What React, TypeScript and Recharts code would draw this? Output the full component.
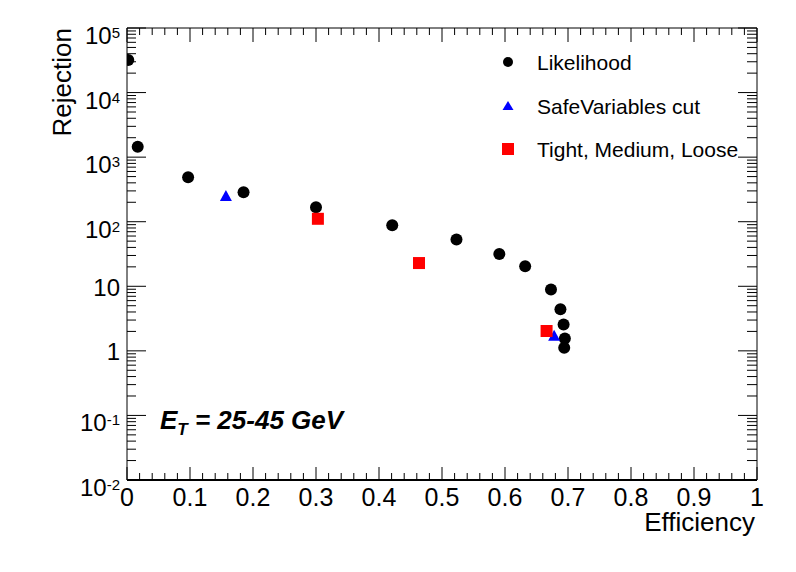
import React from 'react';
import { ScatterChart, Scatter, XAxis, YAxis, Legend } from 'recharts';

const FONT = '"Liberation Sans", Arial, Helvetica, sans-serif';

// Likelihood working points
const likelihoodEff = [0.002, 0.017, 0.097, 0.185, 0.3, 0.421, 0.523, 0.591, 0.632, 0.673, 0.688, 0.693, 0.695, 0.694];
const likelihoodRej = [32000, 1450, 490, 286, 167, 88, 53, 31.6, 20.4, 8.9, 4.4, 2.55, 1.56, 1.12];

// SafeVariables cut
const safeEff = [0.157, 0.678];
const safeRej = [251, 1.72];

// Tight, Medium, Loose
const tmlEff = [0.303, 0.4635, 0.666];
const tmlRej = [111, 22.9, 2.03];

const xMajorTicks = [0, 0.1, 0.2, 0.3, 0.4, 0.5, 0.6, 0.7, 0.8, 0.9, 1];
const yDecades = [0.01, 0.1, 1, 10, 100, 1000, 10000, 100000];

const seriesNames = ['Likelihood', 'SafeVariables cut', 'Tight, Medium, Loose'];

const toPoints = (xs: number[], ys: number[]) => xs.map((x, i) => ({ x, y: ys[i] }));
const likelihoodData = toPoints(likelihoodEff, likelihoodRej);
const safeData = toPoints(safeEff, safeRej);
const tmlData = toPoints(tmlEff, tmlRej);

// minor ticks: 5 divisions per 0.1 on x, 2..9 per decade on y
const xTicks: number[] = [];
for (let i = 0; i < xMajorTicks.length; i++) {
  xTicks.push(xMajorTicks[i]);
  if (i < xMajorTicks.length - 1) {
    for (let k = 1; k < 5; k++) xTicks.push(+(xMajorTicks[i] + k * 0.02).toFixed(3));
  }
}
const yTicks: number[] = [];
yDecades.forEach((d, i) => {
  yTicks.push(d);
  if (i < yDecades.length - 1) {
    for (let k = 2; k < 10; k++) yTicks.push(+(d * k).toPrecision(3));
  }
});

const isXMajor = (v: number) => Math.abs(v * 10 - Math.round(v * 10)) < 1e-6;
const isYMajor = (v: number) => Math.abs(Math.log10(v) - Math.round(Math.log10(v))) < 1e-6;

const BottomTick = (props: any) => {
  const { x, y, payload } = props;
  const v = payload.value;
  const major = isXMajor(v);
  const label = v === 0 ? '0' : v === 1 ? '1' : v.toFixed(1);
  return (
    <g>
      <line x1={x} x2={x} y1={y} y2={y - (major ? 13 : 7)} stroke="#000" />
      {major && (
        <text x={x} y={y + 26} textAnchor="middle" fontFamily={FONT} fontSize={25} fill="#000">
          {label}
        </text>
      )}
    </g>
  );
};

const TopTick = (props: any) => {
  const { x, y, payload } = props;
  const major = isXMajor(payload.value);
  return <line x1={x} x2={x} y1={y} y2={y + (major ? 14 : 7)} stroke="#000" />;
};

const LeftTick = (props: any) => {
  const { x, y, payload } = props;
  const v = payload.value;
  const major = isYMajor(v);
  const e = Math.round(Math.log10(v));
  let label = null;
  if (major) {
    if (e === 0 || e === 1) {
      label = (
        <text x={120} y={y + 9.5} textAnchor="end" fontFamily={FONT} fontSize={24} fill="#000">
          {e === 0 ? '1' : '10'}
        </text>
      );
    } else {
      label = (
        <text x={120} y={y + 16} textAnchor="end" fontFamily={FONT} fontSize={24} fill="#000">
          10
          <tspan dy={-6} fontSize={15}>{String(e)}</tspan>
        </text>
      );
    }
  }
  return (
    <g>
      <line x1={x} x2={x + (major ? 19 : 9)} y1={y} y2={y} stroke="#000" />
      {label}
    </g>
  );
};

const RightTick = (props: any) => {
  const { x, y, payload } = props;
  const major = isYMajor(payload.value);
  return <line x1={x} x2={x - (major ? 19 : 10)} y1={y} y2={y} stroke="#000" />;
};

const CircleShape = (p: any) => <circle cx={p.cx} cy={p.cy} r={6} fill="#000" />;
const TriangleShape = (p: any) => (
  <polygon points={`${p.cx - 6},${p.cy + 5} ${p.cx + 6},${p.cy + 5} ${p.cx},${p.cy - 6}`} fill="#0000ff" />
);
const SquareShape = (p: any) => <rect x={p.cx - 6} y={p.cy - 6} width={12} height={12} fill="#ff0000" />;
const NoShape = () => <g />;

const legendMarker = (i: number, cx: number, cy: number) => {
  if (i === 0) return <circle cx={cx} cy={cy} r={5} fill="#000" />;
  if (i === 1)
    return <polygon points={`${cx - 5.5},${cy + 4} ${cx + 5.5},${cy + 4} ${cx},${cy - 5}`} fill="#0000ff" />;
  return <rect x={cx - 6} y={cy - 6} width={12} height={12} fill="#ff0000" />;
};

const LegendBox = () => {
  const rowY = [17, 61, 104];
  return (
    <svg width={270} height={125} style={{ display: 'block' }}>
      {seriesNames.map((name, i) => (
        <g key={name}>
          {legendMarker(i, 13, rowY[i])}
          <text x={42} y={rowY[i] + 8} fontFamily={FONT} fontSize={21} fill="#000">
            {name}
          </text>
        </g>
      ))}
    </svg>
  );
};

export default function App() {
  return (
    <div style={{ position: 'relative', width: 796, height: 572, background: '#fff' }}>
      <style>{'body{margin:0;}'}</style>
      <ScatterChart width={796} height={572} margin={{ top: 27, right: 38, bottom: 0, left: 0 }}>
        <XAxis
          xAxisId="main"
          dataKey="x"
          type="number"
          domain={[0, 1]}
          allowDataOverflow
          ticks={xTicks}
          interval={0}
          height={92}
          tickSize={0}
          tickMargin={0}
          tickLine={false}
          tick={<BottomTick />}
          axisLine={{ stroke: '#000', strokeWidth: 2 }}
          label={{
            content: (p: any) => {
              const vb = p.viewBox;
              return (
                <text x={vb.x + vb.width - 2} y={vb.y + 51} textAnchor="end" fontFamily={FONT} fontSize={26} fill="#000">
                  Efficiency
                </text>
              );
            },
          }}
        />
        <XAxis
          xAxisId="top"
          orientation="top"
          dataKey="x"
          type="number"
          domain={[0, 1]}
          allowDataOverflow
          ticks={xTicks}
          interval={0}
          height={1}
          tickSize={0}
          tickMargin={0}
          tickLine={false}
          tick={<TopTick />}
          axisLine={{ stroke: '#000', strokeWidth: 1 }}
        />
        <YAxis
          yAxisId="main"
          dataKey="y"
          type="number"
          scale="log"
          domain={[0.01, 100000]}
          allowDataOverflow
          ticks={yTicks}
          interval={0}
          width={127}
          tickSize={0}
          tickMargin={0}
          tickLine={false}
          tick={<LeftTick />}
          axisLine={{ stroke: '#000', strokeWidth: 1 }}
          label={{
            content: (p: any) => {
              const vb = p.viewBox;
              return (
                <text
                  x={71}
                  y={vb.y}
                  textAnchor="end"
                  transform={`rotate(-90, 71, ${vb.y})`}
                  fontFamily={FONT}
                  fontSize={26}
                  fill="#000"
                >
                  Rejection
                </text>
              );
            },
          }}
        />
        <YAxis
          yAxisId="right"
          orientation="right"
          dataKey="y"
          type="number"
          scale="log"
          domain={[0.01, 100000]}
          allowDataOverflow
          ticks={yTicks}
          interval={0}
          width={1}
          tickSize={0}
          tickMargin={0}
          tickLine={false}
          tick={<RightTick />}
          axisLine={{ stroke: '#000', strokeWidth: 1 }}
        />
        <Legend
          layout="vertical"
          align="center"
          verticalAlign="middle"
          content={() => <LegendBox />}
          wrapperStyle={{ position: 'absolute', left: 495, top: 45, width: 270, height: 125 }}
        />
        {/* frame axes need a series to be drawn; this one draws nothing */}
        <Scatter
          data={likelihoodData}
          xAxisId="top"
          yAxisId="right"
          shape={NoShape}
          legendType="none"
          isAnimationActive={false}
        />
        <Scatter
          name={seriesNames[0]}
          data={likelihoodData}
          xAxisId="main"
          yAxisId="main"
          shape={CircleShape}
          isAnimationActive={false}
        />
        <Scatter
          name={seriesNames[1]}
          data={safeData}
          xAxisId="main"
          yAxisId="main"
          shape={TriangleShape}
          isAnimationActive={false}
        />
        <Scatter
          name={seriesNames[2]}
          data={tmlData}
          xAxisId="main"
          yAxisId="main"
          shape={SquareShape}
          isAnimationActive={false}
        />
      </ScatterChart>
      <svg
        width={796}
        height={572}
        style={{ position: 'absolute', left: 0, top: 0, pointerEvents: 'none' }}
      >
        <text x={160} y={429} fontFamily={FONT} fontSize={26} fontWeight="bold" fontStyle="italic" fill="#000">
          E
          <tspan dy={6} fontSize={17}>T</tspan>
          <tspan dy={-6} fontSize={26}> = 25-45 GeV</tspan>
        </text>
      </svg>
    </div>
  );
}
